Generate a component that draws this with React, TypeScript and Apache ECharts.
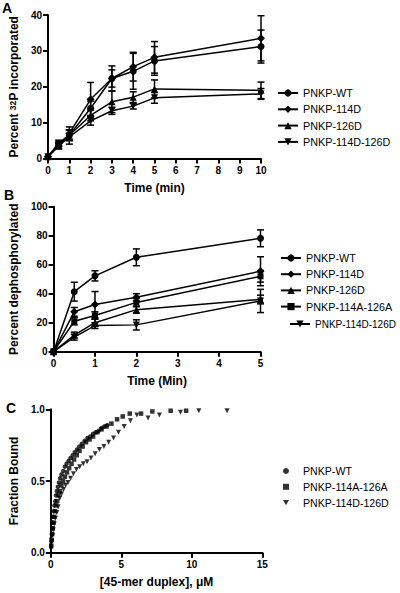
import React, { useEffect, useRef } from "react";
import * as echarts from "echarts";

// Panel A
const timeA = [0, 0.5, 1, 2, 3, 4, 5, 10];
const wtA = [0.5, 4.0, 6.5, 14.0, 22.3, 24.3, 27.2, 31.2];
const wtErrA = [0, 0.8, 1.5, 2.0, 3.5, 5.0, 4.0, 4.6];
const d114A = [0.5, 3.5, 7.0, 16.5, 22.3, 25.6, 28.2, 33.5];
const d114ErrA = [0, 0.8, 1.8, 4.7, 2.4, 4.0, 4.4, 6.3];
const d126A = [0.5, 4.3, 6.5, 12.0, 15.8, 17.1, 19.4, 19.0];
const d126ErrA = [0, 0.8, 1.5, 1.5, 3.0, 1.5, 2.5, 2.3];
const dd126A = [0.5, 3.5, 6.0, 10.5, 13.3, 14.6, 16.9, 18.0];
const ddErrA = [0, 0.8, 2.0, 1.2, 1.0, 0.8, 1.5, 1.5];

// Panel B
const timeB = [0, 0.5, 1, 2, 5];
const wtB = [0, 41.4, 52.3, 65.1, 78.2];
const wtErrB = [0, 6.5, 3.5, 5.8, 5.8];
const d114B = [0, 27.5, 32.5, 37.5, 55.5];
const d114ErrB = [0, 3, 9, 2.5, 10];
const d126B = [0, 11.5, 20, 29, 36];
const d126ErrB = [0, 2, 2.5, 2.5, 3];
const aaB = [0, 21, 25, 34, 52];
const aaErrB = [0, 2.5, 2.5, 3, 4];
const ddB = [0, 10, 18, 18.5, 35];
const ddErrB = [0, 2, 2, 3.5, 8];

// Panel C
const wtCx = [0.02, 0.04, 0.07, 0.1, 0.13, 0.17, 0.21, 0.26, 0.31, 0.37, 0.43, 0.5, 0.58, 0.66, 0.76, 0.88, 1.0, 1.12, 1.26, 1.4, 1.55, 1.7, 1.86, 2.02, 2.2, 2.4, 2.6, 2.8, 3.0, 3.2, 3.4, 3.6, 3.8, 4.0];
const wtCy = [0.04, 0.08, 0.13, 0.17, 0.21, 0.25, 0.29, 0.33, 0.36, 0.4, 0.43, 0.46, 0.49, 0.52, 0.545, 0.57, 0.6, 0.62, 0.64, 0.66, 0.68, 0.7, 0.72, 0.74, 0.76, 0.78, 0.8, 0.81, 0.83, 0.84, 0.85, 0.87, 0.88, 0.89];
const aaCx = [0.03, 0.06, 0.1, 0.14, 0.19, 0.24, 0.3, 0.37, 0.45, 0.54, 0.64, 0.75, 0.87, 1.0, 1.15, 1.3, 1.47, 1.65, 1.84, 2.04, 2.26, 2.5, 2.75, 3.0, 3.3, 3.6, 3.95, 4.3, 4.7, 5.1, 5.6, 6.4, 7.2, 8.5, 9.6];
const aaCy = [0.05, 0.09, 0.13, 0.17, 0.21, 0.25, 0.29, 0.33, 0.36, 0.4, 0.43, 0.47, 0.5, 0.53, 0.56, 0.59, 0.62, 0.65, 0.68, 0.71, 0.74, 0.77, 0.79, 0.81, 0.84, 0.86, 0.88, 0.9, 0.93, 0.95, 0.97, 0.97, 0.985, 0.99, 0.99];
const ddCx = [0.03, 0.07, 0.12, 0.18, 0.25, 0.33, 0.42, 0.52, 0.63, 0.76, 0.9, 1.05, 1.22, 1.4, 1.6, 1.82, 2.05, 2.3, 2.57, 2.85, 3.15, 3.45, 3.77, 4.1, 4.45, 4.8, 5.2, 5.65, 6.1, 6.9, 7.7, 9.2, 10.5, 12.5];
const ddCy = [0.04, 0.08, 0.12, 0.16, 0.2, 0.24, 0.28, 0.32, 0.38, 0.41, 0.44, 0.47, 0.49, 0.52, 0.55, 0.58, 0.6, 0.62, 0.635, 0.66, 0.69, 0.72, 0.74, 0.77, 0.8, 0.84, 0.88, 0.92, 0.96, 0.94, 0.96, 0.98, 0.99, 0.99];

const FONT = "Liberation Sans, Arial, sans-serif";
const BLACK = "#000";
const TRI_DOWN = "path://M0,0L10,0L5,9Z";

function pairs(xs: number[], ys: number[]) {
  return xs.map((x, i) => [x, ys[i]]);
}

function lineSeries(name: string, idx: number, xs: number[], ys: number[], symbol: string, size: number) {
  return {
    type: "line",
    name,
    xAxisIndex: idx,
    yAxisIndex: idx,
    data: pairs(xs, ys),
    symbol,
    symbolSize: size,
    showSymbol: true,
    lineStyle: { color: BLACK, width: 1.5 },
    itemStyle: { color: BLACK },
    z: 3,
  };
}

function errSeries(idx: number, xs: number[], ys: number[], es: number[]) {
  return {
    type: "custom",
    xAxisIndex: idx,
    yAxisIndex: idx,
    silent: true,
    z: 2,
    data: xs.map((x, i) => [x, ys[i], es[i]]),
    renderItem: (_p: any, api: any) => {
      const x = api.value(0);
      const y = api.value(1);
      const e = api.value(2);
      if (!e) return null;
      const t = api.coord([x, y + e]);
      const b = api.coord([x, y - e]);
      const hw = 3.5;
      const st = { stroke: BLACK, lineWidth: 1.5 };
      return {
        type: "group",
        children: [
          { type: "line", shape: { x1: t[0], y1: t[1], x2: b[0], y2: b[1] }, style: st },
          { type: "line", shape: { x1: t[0] - hw, y1: t[1], x2: t[0] + hw, y2: t[1] }, style: st },
          { type: "line", shape: { x1: b[0] - hw, y1: b[1], x2: b[0] + hw, y2: b[1] }, style: st },
        ],
      };
    },
  };
}

function scatterSeries(name: string, xs: number[], ys: number[], symbol: string, size: number) {
  return {
    type: "scatter",
    name,
    xAxisIndex: 2,
    yAxisIndex: 2,
    data: pairs(xs, ys),
    symbol,
    symbolSize: size,
    itemStyle: { color: BLACK },
    z: 3,
  };
}

const axisBase = {
  axisLine: { show: true, onZero: false, lineStyle: { color: BLACK, width: 2 } },
  axisTick: { show: true, length: 5, lineStyle: { color: BLACK, width: 2 } },
  splitLine: { show: false },
  nameLocation: "middle",
  nameTextStyle: { color: BLACK, fontWeight: "bold", fontSize: 12, fontFamily: FONT },
};

function xAxis(idx: number, max: number, interval: number, name: string, gap: number) {
  return {
    ...axisBase,
    type: "value",
    gridIndex: idx,
    min: 0,
    max,
    interval,
    name,
    nameGap: gap,
    axisLabel: { color: BLACK, fontWeight: "bold", fontSize: 10, fontFamily: FONT, margin: 7 },
  };
}

function yAxis(idx: number, max: number, interval: number, name: string, gap: number, fmt?: (v: number) => string, rich?: any) {
  return {
    ...axisBase,
    type: "value",
    gridIndex: idx,
    min: 0,
    max,
    interval,
    name,
    nameGap: gap,
    nameTextStyle: { ...axisBase.nameTextStyle, rich },
    axisLabel: { color: BLACK, fontWeight: "bold", fontSize: 10, fontFamily: FONT, margin: 6, formatter: fmt },
  };
}

function legendText(size: number, extra: any = {}) {
  return { color: BLACK, fontSize: size, fontFamily: FONT, lineHeight: 12, ...extra };
}

export default function App() {
  const ref = useRef<HTMLDivElement>(null);
  useEffect(() => {
    if (!ref.current) return;
    const chart = echarts.init(ref.current, undefined, { renderer: "svg" });
    chart.setOption({
      animation: false,
      backgroundColor: "#fff",
      grid: [
        { left: 45, top: 15, width: 216, height: 143.5 },
        { left: 43, top: 206.7, width: 217.5, height: 145 },
        { left: 45.7, top: 409.3, width: 216.6, height: 143.4 },
      ],
      xAxis: [
        xAxis(0, 10, 1, "Time (min)", 23),
        xAxis(1, 5, 1, "Time (Min)", 23),
        xAxis(2, 15, 5, "[45-mer duplex], μM", 23),
      ],
      yAxis: [
        yAxis(0, 40, 10, "Percent {sup|32}P incorporated", 21, undefined, {
          sup: { fontSize: 8.5, fontWeight: "bold", fontFamily: FONT, verticalAlign: "top", lineHeight: 12, color: BLACK },
        }),
        yAxis(1, 100, 20, "Percent dephosphorylated", 24),
        yAxis(2, 1, 0.5, "Fraction Bound", 24, (v: number) => v.toFixed(1)),
      ],
      legend: [
        {
          orient: "vertical",
          left: 272,
          top: 82,
          itemWidth: 20,
          itemHeight: 9,
          itemGap: 4.3,
          textStyle: legendText(10.8),
          data: ["PNKP-WT", "PNKP-114D", "PNKP-126D", "PNKP-114D-126D"],
        },
        {
          orient: "vertical",
          left: 275,
          top: 247,
          itemWidth: 20,
          itemHeight: 9,
          itemGap: 4.2,
          textStyle: legendText(10.8),
          data: ["PNKP-WT ", "PNKP-114D ", "PNKP-126D ", "PNKP-114A-126A "],
        },
        {
          orient: "vertical",
          left: 284,
          top: 313,
          itemWidth: 20,
          itemHeight: 9,
          textStyle: legendText(10),
          data: ["PNKP-114D-126D "],
        },
        {
          orient: "vertical",
          left: 278,
          top: 460,
          itemWidth: 6,
          itemHeight: 6,
          itemGap: 3.8,
          textStyle: legendText(10.6, { padding: [0, 0, 0, 9] }),
          data: ["PNKP-WT  ", "PNKP-114A-126A  ", "PNKP-114D-126D  "],
        },
      ],
      graphic: [
        { type: "text", left: 2, top: 1, style: { text: "A", font: `bold 14px ${FONT}`, fill: BLACK } },
        { type: "text", left: 4, top: 188, style: { text: "B", font: `bold 14px ${FONT}`, fill: BLACK } },
        { type: "text", left: 6, top: 401, style: { text: "C", font: `bold 14px ${FONT}`, fill: BLACK } },
      ],
      series: [
        errSeries(0, timeA, wtA, wtErrA),
        errSeries(0, timeA, d114A, d114ErrA),
        errSeries(0, timeA, d126A, d126ErrA),
        errSeries(0, timeA, dd126A, ddErrA),
        lineSeries("PNKP-WT", 0, timeA, wtA, "circle", 7),
        lineSeries("PNKP-114D", 0, timeA, d114A, "diamond", 8),
        lineSeries("PNKP-126D", 0, timeA, d126A, "triangle", 7),
        lineSeries("PNKP-114D-126D", 0, timeA, dd126A, TRI_DOWN, 7),

        errSeries(1, timeB, wtB, wtErrB),
        errSeries(1, timeB, d114B, d114ErrB),
        errSeries(1, timeB, d126B, d126ErrB),
        errSeries(1, timeB, aaB, aaErrB),
        errSeries(1, timeB, ddB, ddErrB),
        lineSeries("PNKP-WT ", 1, timeB, wtB, "circle", 7),
        lineSeries("PNKP-114D ", 1, timeB, d114B, "diamond", 8),
        lineSeries("PNKP-126D ", 1, timeB, d126B, "triangle", 7),
        lineSeries("PNKP-114A-126A ", 1, timeB, aaB, "rect", 6),
        lineSeries("PNKP-114D-126D ", 1, timeB, ddB, TRI_DOWN, 7),

        scatterSeries("PNKP-WT  ", wtCx, wtCy, "circle", 4.5),
        scatterSeries("PNKP-114A-126A  ", aaCx, aaCy, "rect", 4.5),
        scatterSeries("PNKP-114D-126D  ", ddCx, ddCy, TRI_DOWN, 5),
      ],
    });
    return () => chart.dispose();
  }, []);
  return (
    <div
      ref={ref}
      style={{ position: "fixed", left: 0, top: 0, width: 400, height: 593, background: "#fff" }}
    />
  );
}
